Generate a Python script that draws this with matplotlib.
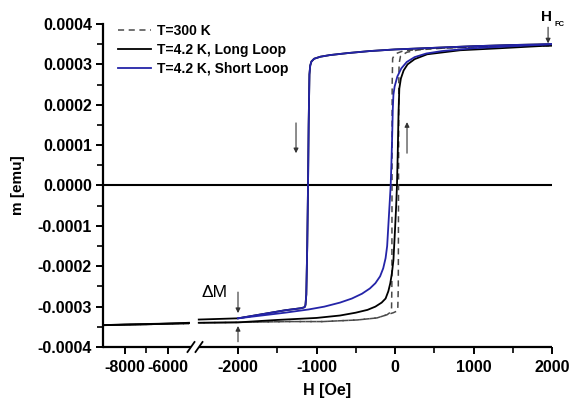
import numpy as np
import matplotlib
matplotlib.use("Agg")
import matplotlib.pyplot as plt
from matplotlib.ticker import FixedLocator, FuncFormatter

plt.rcParams['font.family'] = ['Liberation Sans', 'DejaVu Sans']
plt.rcParams['font.weight'] = 'bold'
plt.rcParams['axes.unicode_minus'] = False

nan = np.nan
# ---------------- data (H in Oe, m in emu) ----------------
# T = 300 K, descending branch
h300_dn = [2000, 1500, 1000, 500, 250, 100, 30, -10, -30, -36, -38, -40, -44, -60, -100, -230, -480, -920, -1340, -2000, -2500,
           nan, -5000, -6000, -7000, -8000, -9000]
m300_dn = [3.46e-4, 3.45e-4, 3.43e-4, 3.40e-4, 3.36e-4, 3.33e-4, 3.28e-4, 3.22e-4, 3.15e-4, 2.5e-4, 0.0, -2.5e-4, -3.05e-4,
           -3.14e-4, -3.20e-4, -3.28e-4, -3.33e-4, -3.37e-4, -3.37e-4, -3.39e-4, -3.40e-4,
           nan, -3.42e-4, -3.43e-4, -3.44e-4, -3.45e-4, -3.46e-4]
# T = 300 K, ascending branch
h300_up = [-9000, -8000, -7000, -6000, -5000, nan, -2500, -2000, -1340, -920, -480, -230, -100, -20, 35, 42, 45, 48, 52,
           70, 150, 300, 600, 1000, 1500, 2000]
m300_up = [-3.46e-4, -3.45e-4, -3.44e-4, -3.43e-4, -3.42e-4, nan, -3.40e-4, -3.39e-4, -3.37e-4, -3.37e-4, -3.33e-4,
           -3.28e-4, -3.20e-4, -3.15e-4, -3.10e-4, -2.5e-4, 0.0, 2.5e-4, 3.02e-4, 3.20e-4, 3.30e-4, 3.36e-4,
           3.40e-4, 3.43e-4, 3.45e-4, 3.46e-4]

# T = 4.2 K long loop, descending branch
hl_dn = [2000, 1500, 1000, 500, 0, -320, -600, -830, -950, -1030, -1065, -1080, -1090, -1100, -1108, -1118, -1130,
         -1140, -1146, -1160, -1200, -1400, -1700, -2000, -2500, nan, -5000, -6000, -7000, -8000, -9000]
ml_dn = [3.50e-4, 3.48e-4, 3.45e-4, 3.41e-4, 3.37e-4, 3.33e-4, 3.28e-4, 3.23e-4, 3.19e-4, 3.14e-4, 3.07e-4, 2.97e-4,
         2.75e-4, 1.5e-4, 0.0, -1.5e-4, -2.7e-4, -2.95e-4, -3.0e-4, -3.02e-4, -3.04e-4, -3.09e-4, -3.19e-4,
         -3.29e-4, -3.32e-4, nan, -3.40e-4, -3.42e-4, -3.43e-4, -3.44e-4, -3.46e-4]
# T = 4.2 K long loop, ascending branch
hl_up = [-9000, -8000, -7000, -6000, -5000, nan, -2500, -2000, -1500, -1000, -700, -500, -350, -250, -170, -120, -85,
         -60, -40, -20, 0, 15, 25, 35, 45, 55, 75, 110, 160, 250, 410, 830, 1340, 2000]
ml_up = [-3.46e-4, -3.45e-4, -3.44e-4, -3.42e-4, -3.41e-4, nan, -3.40e-4, -3.39e-4, -3.33e-4, -3.28e-4, -3.22e-4,
         -3.15e-4, -3.08e-4, -3.00e-4, -2.90e-4, -2.80e-4, -2.62e-4, -2.42e-4, -2.18e-4, -1.85e-4, -1.10e-4,
         -0.5e-4, 0.0, 0.8e-4, 1.8e-4, 2.4e-4, 2.65e-4, 2.85e-4, 3.00e-4, 3.13e-4, 3.25e-4, 3.35e-4, 3.40e-4, 3.47e-4]

# T = 4.2 K short loop, descending branch
hs_dn = [2000, 1500, 1000, 500, 0, -320, -600, -830, -950, -1030, -1065, -1080, -1090, -1100, -1108, -1118, -1130,
         -1140, -1146, -1160, -1200, -1400, -1700, -2000]
ms_dn = [3.50e-4, 3.48e-4, 3.45e-4, 3.41e-4, 3.37e-4, 3.33e-4, 3.28e-4, 3.23e-4, 3.19e-4, 3.14e-4, 3.07e-4, 2.97e-4,
         2.75e-4, 1.5e-4, 0.0, -1.5e-4, -2.7e-4, -2.95e-4, -3.0e-4, -3.02e-4, -3.04e-4, -3.09e-4, -3.19e-4, -3.29e-4]
# T = 4.2 K short loop, ascending branch
hs_up = [-2000, -1700, -1400, -1100, -900, -700, -550, -420, -320, -250, -190, -150, -120, -100, -85, -70, -55, -45,
         -35, -28, -20, -5, 30, 80, 150, 250, 400, 600, 1000, 1500, 2000]
ms_up = [-3.29e-4, -3.22e-4, -3.15e-4, -3.07e-4, -3.00e-4, -2.90e-4, -2.80e-4, -2.68e-4, -2.55e-4, -2.42e-4,
         -2.25e-4, -2.05e-4, -1.80e-4, -1.50e-4, -1.00e-4, -0.50e-4, 0.0, 0.6e-4, 1.3e-4, 1.9e-4, 2.25e-4,
         2.45e-4, 2.70e-4, 2.90e-4, 3.06e-4, 3.18e-4, 3.27e-4, 3.33e-4, 3.40e-4, 3.45e-4, 3.50e-4]

x_major = [-8000, -6000, -2000, -1000, 0, 1000, 2000]
x_minor = [-7000, -1500, -500, 500, 1500]
y_major = [-0.0004, -0.0003, -0.0002, -0.0001, 0.0, 0.0001, 0.0002, 0.0003, 0.0004]

labels = ["T=300 K", "T=4.2 K, Long Loop", "T=4.2 K, Short Loop"]

# ---------------- broken x scale ----------------
def fwd(x):
    x = np.asarray(x, float)
    return np.where(x < -5000, (x + 9000) * 0.0215,
                    np.where(x < -2500, 86 + (x + 5000) * (9.75 / 2500),
                             95.75 + (x + 2500) * 0.0785))

def inv(u):
    u = np.asarray(u, float)
    return np.where(u < 86, u / 0.0215 - 9000,
                    np.where(u < 95.75, -5000 + (u - 86) * 2500 / 9.75,
                             -2500 + (u - 95.75) / 0.0785))

fig = plt.figure(figsize=(5.75, 4.01), dpi=100)
ax = fig.add_axes([103 / 575, 1 - 347 / 401, 449 / 575, 323 / 401])
ax.set_xscale('function', functions=(fwd, inv))
ax.set_xlim(-9000, 2000)
ax.set_ylim(-0.0004, 0.0004)

blue = '#2424a8'
grey = '#4a4a4a'
ax.axhline(0, color='black', lw=1.5, zorder=1)
l1, = ax.plot(h300_dn, m300_dn, ls=(0, (4, 3)), color=grey, lw=1.1, zorder=2)
ax.plot(h300_up, m300_up, ls=(0, (4, 3)), color=grey, lw=1.1, zorder=2)
l2, = ax.plot(hl_dn, ml_dn, color='black', lw=1.3, zorder=3)
ax.plot(hl_up, ml_up, color='black', lw=1.3, zorder=3)
l3, = ax.plot(hs_dn, ms_dn, color=blue, lw=1.3, zorder=4)
ax.plot(hs_up, ms_up, color=blue, lw=1.3, zorder=4)

# spines
for s in ['top', 'right', 'bottom']:
    ax.spines[s].set_visible(False)
ax.spines['left'].set_linewidth(1.6)
ub_left = 88 / 449
ub_right = 96 / 449
ax.plot([0, ub_left], [0, 0], color='black', lw=1.6, transform=ax.transAxes, clip_on=False, solid_capstyle='butt')
ax.plot([ub_right, 1], [0, 0], color='black', lw=1.6, transform=ax.transAxes, clip_on=False, solid_capstyle='butt')
for xc in (ub_left, ub_right):
    ax.plot([xc - 3.5 / 449, xc + 3.5 / 449], [-5 / 323, 5 / 323], color='black', lw=1.3,
            transform=ax.transAxes, clip_on=False)

ax.xaxis.set_major_locator(FixedLocator(x_major))
ax.xaxis.set_minor_locator(FixedLocator(x_minor))
ax.yaxis.set_major_locator(FixedLocator(y_major))
ax.yaxis.set_minor_locator(FixedLocator([v + 0.00005 for v in y_major[:-1]]))
ax.xaxis.set_major_formatter(FuncFormatter(lambda v, p: f"{int(round(v))}"))
ax.yaxis.set_major_formatter(FuncFormatter(lambda v, p: "0.0000" if abs(v) < 1e-9 else f"{v:.4f}"))
ax.tick_params(axis='both', which='major', direction='out', length=5, width=1.4, labelsize=11.5, pad=3)
ax.tick_params(axis='both', which='minor', direction='out', length=4, width=1.2)
ax.tick_params(axis='x', which='major', pad=4)
for t in ax.get_xticklabels() + ax.get_yticklabels():
    t.set_fontweight('bold')

ax.set_xlabel("H [Oe]", fontsize=11.5, fontweight='bold', labelpad=6)
ax.set_ylabel("m [emu]", fontsize=11, fontweight='bold', labelpad=9)

leg = ax.legend([l1, l2, l3], labels, loc='upper left', bbox_to_anchor=(0.022, 1.017), frameon=False,
                fontsize=10, handlelength=2.35, handletextpad=0.4, labelspacing=0.36, borderaxespad=0)
for t in leg.get_texts():
    t.set_fontweight('bold')

arr = dict(arrowstyle='-|>', lw=0.8, color='#333333', mutation_scale=7, shrinkA=0, shrinkB=0)
ax.annotate('', xy=(-1261, 0.80e-4), xytext=(-1261, 1.55e-4), arrowprops=arr)
ax.annotate('', xy=(153, 1.57e-4), xytext=(153, 0.80e-4), arrowprops=arr)
ax.annotate('', xy=(-2000, -3.16e-4), xytext=(-2000, -2.64e-4), arrowprops=arr)
ax.annotate('', xy=(-2000, -3.48e-4), xytext=(-2000, -3.87e-4), arrowprops=arr, annotation_clip=False)
ax.annotate('', xy=(1950, 3.52e-4), xytext=(1950, 3.92e-4), arrowprops=arr, annotation_clip=False)
ax.text(-2300, -2.64e-4, "ΔM", fontsize=12.5, fontweight='normal', ha='center', va='center')
ax.text(1930, 4.17e-4, "H", fontsize=11, fontweight='bold', ha='center', va='center', clip_on=False)
ax.text(2030, 3.98e-4, "FC", fontsize=5.5, fontweight='bold', ha='left', va='center', clip_on=False)

fig.savefig("out.png", dpi=100)
